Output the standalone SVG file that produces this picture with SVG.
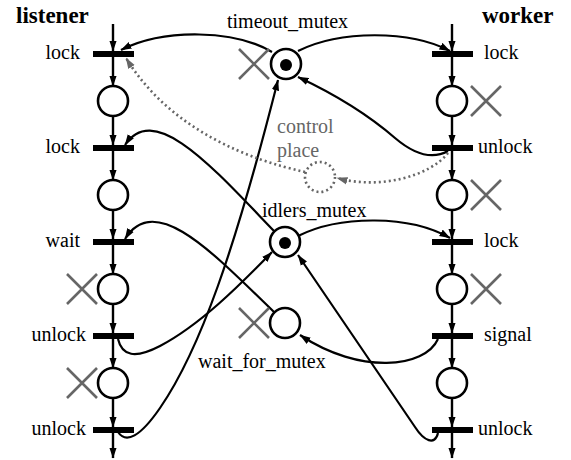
<svg xmlns="http://www.w3.org/2000/svg" width="571" height="460" viewBox="0 0 571 460">
<defs>
<marker id="ah" viewBox="0 0 11 8" refX="10.5" refY="4" markerWidth="11" markerHeight="8" markerUnits="userSpaceOnUse" orient="auto">
<path d="M0,0.3 L11,4 L0,7.7 Z" fill="#000"/>
</marker>
<marker id="ahg" viewBox="0 0 11 8" refX="10.5" refY="4" markerWidth="11" markerHeight="8" markerUnits="userSpaceOnUse" orient="auto">
<path d="M0,0.3 L11,4 L0,7.7 Z" fill="#666"/>
</marker>
</defs>
<style>
text{font-family:'Liberation Serif','Times New Roman',serif;font-size:20px;fill:#000}
.b{font-weight:bold;font-size:23px}
.g{fill:#666}
.bar{fill:#000}
.pl{fill:#fff;stroke:#000;stroke-width:2.6}
.cp{fill:none;stroke:#666;stroke-width:2.6;stroke-dasharray:2,3}
.tok{fill:#000}
.x{stroke:#666;stroke-width:2.6;fill:none}
.ch{stroke:#000;stroke-width:2.4;fill:none;marker-end:url(#ah)}
.arca{stroke:#000;stroke-width:2.2;fill:none;marker-end:url(#ah)}
.dot{stroke:#666;stroke-width:2.6;fill:none;stroke-dasharray:2,3;marker-end:url(#ahg)}
</style>

<text class="b" x="16" y="23">listener</text>
<text class="b" x="482" y="23">worker</text>

<g id="connectors">
<line class="ch" x1="113" y1="24" x2="113" y2="51"/>
<line class="ch" x1="113" y1="57" x2="113" y2="86"/>
<line class="ch" x1="113" y1="116" x2="113" y2="145"/>
<line class="ch" x1="113" y1="151" x2="113" y2="180"/>
<line class="ch" x1="113" y1="210" x2="113" y2="239"/>
<line class="ch" x1="113" y1="245" x2="113" y2="274"/>
<line class="ch" x1="113" y1="304" x2="113" y2="333"/>
<line class="ch" x1="113" y1="339" x2="113" y2="368"/>
<line class="ch" x1="113" y1="398" x2="113" y2="427"/>
<line class="ch" x1="113" y1="433" x2="113" y2="458"/>
<line class="ch" x1="452" y1="24" x2="452" y2="51"/>
<line class="ch" x1="452" y1="57" x2="452" y2="86"/>
<line class="ch" x1="452" y1="116" x2="452" y2="145"/>
<line class="ch" x1="452" y1="151" x2="452" y2="180"/>
<line class="ch" x1="452" y1="210" x2="452" y2="239"/>
<line class="ch" x1="452" y1="245" x2="452" y2="274"/>
<line class="ch" x1="452" y1="304" x2="452" y2="333"/>
<line class="ch" x1="452" y1="339" x2="452" y2="368"/>
<line class="ch" x1="452" y1="398" x2="452" y2="427"/>
<line class="ch" x1="452" y1="433" x2="452" y2="458"/>

<path class="arca" d="M272,52 C235,30 165,28 121,50"/>
<path class="arca" d="M298,51 C340,30 410,30 450,51"/>
<path class="arca" d="M448,151 C432,160 415,155 395,138 C365,112 330,92 298,77"/>
<path class="arca" d="M118,432 C126,444 140,437 160,408 C200,350 235,250 278,80"/>

<path class="dot" d="M448,153 C430,176 380,190 337,178"/>
<path class="dot" d="M305,172 C250,160 170,130 126,58"/>

<path class="arca" d="M275,232 C215,170 155,100 125,145"/>
<path class="arca" d="M298,236 C340,215 410,215 450,238"/>
<path class="arca" d="M118,339 C122,356 135,359 160,346 C200,325 240,285 272,252"/>
<path class="arca" d="M438,433 C435,446 424,441 415,427 L298,255"/>

<path class="arca" d="M274,312 C215,255 155,190 125,239"/>
<path class="arca" d="M438,339 C425,368 360,375 300,335"/>
</g>

<g id="listener-lock1"><rect class="bar" x="93" y="51" width="41" height="6"/><text x="80" y="59" text-anchor="end">lock</text></g>
<g id="listener-p1"><circle class="pl" cx="113" cy="101" r="15"/></g>
<g id="listener-lock2"><rect class="bar" x="93" y="145" width="41" height="6"/><text x="80" y="153" text-anchor="end">lock</text></g>
<g id="listener-p2"><circle class="pl" cx="113" cy="195" r="15"/></g>
<g id="listener-wait"><rect class="bar" x="93" y="239" width="41" height="6"/><text x="80" y="247" text-anchor="end">wait</text></g>
<g id="listener-p3"><circle class="pl" cx="113" cy="289" r="15"/><path class="x" d="M67,274 L97,304 M97,274 L67,304"/></g>
<g id="listener-unlock1"><rect class="bar" x="93" y="333" width="41" height="6"/><text x="86" y="341" text-anchor="end">unlock</text></g>
<g id="listener-p4"><circle class="pl" cx="113" cy="383" r="15"/><path class="x" d="M67,368 L97,398 M97,368 L67,398"/></g>
<g id="listener-unlock2"><rect class="bar" x="93" y="427" width="41" height="6"/><text x="86" y="435" text-anchor="end">unlock</text></g>

<g id="worker-lock1"><rect class="bar" x="432" y="51" width="41" height="6"/><text x="484" y="59">lock</text></g>
<g id="worker-p1"><circle class="pl" cx="452" cy="101" r="15"/><path class="x" d="M471,86 L501,116 M501,86 L471,116"/></g>
<g id="worker-unlock1"><rect class="bar" x="432" y="145" width="41" height="6"/><text x="478" y="153">unlock</text></g>
<g id="worker-p2"><circle class="pl" cx="452" cy="195" r="15"/><path class="x" d="M471,180 L501,210 M501,180 L471,210"/></g>
<g id="worker-lock2"><rect class="bar" x="432" y="239" width="41" height="6"/><text x="484" y="247">lock</text></g>
<g id="worker-p3"><circle class="pl" cx="452" cy="289" r="15"/><path class="x" d="M471,274 L501,304 M501,274 L471,304"/></g>
<g id="worker-signal"><rect class="bar" x="432" y="333" width="41" height="6"/><text x="484" y="341">signal</text></g>
<g id="worker-p4"><circle class="pl" cx="452" cy="383" r="15"/></g>
<g id="worker-unlock2"><rect class="bar" x="432" y="427" width="41" height="6"/><text x="478" y="435">unlock</text></g>

<g id="timeout_mutex"><circle class="pl" cx="286" cy="64" r="15"/><circle class="tok" cx="286" cy="65" r="6"/><path class="x" d="M239,49 L269,79 M269,49 L239,79"/><text x="227" y="28">timeout_mutex</text></g>
<g id="control_place"><circle class="cp" cx="320" cy="177" r="15"/><text class="g" x="277" y="133">control</text><text class="g" x="277" y="157">place</text></g>
<g id="idlers_mutex"><circle class="pl" cx="285" cy="242" r="15"/><circle class="tok" cx="285" cy="243" r="6"/><text x="262" y="217">idlers_mutex</text></g>
<g id="wait_for_mutex"><circle class="pl" cx="285" cy="323" r="15"/><path class="x" d="M239,308 L269,338 M269,308 L239,338"/><text x="198" y="368">wait_for_mutex</text></g>
</svg>
